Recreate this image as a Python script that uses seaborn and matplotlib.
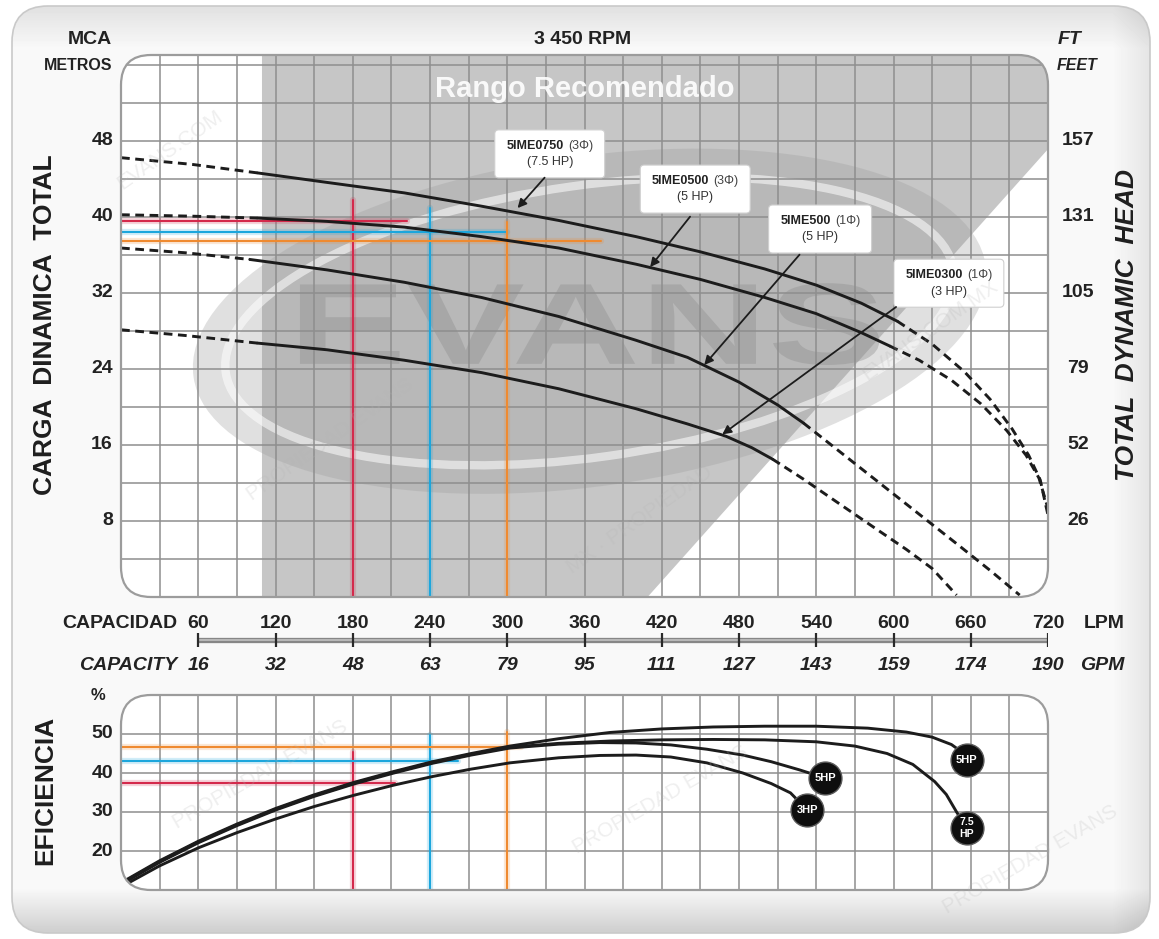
#!/usr/bin/env python3
"""
Curva de desempeño - bombas sumergibles 5IME a 3 450 RPM
"""

import matplotlib

matplotlib.use("Agg")
import matplotlib.pyplot as plt
import matplotlib.transforms as mtransforms
import numpy as np
import pandas as pd
import seaborn as sns
from matplotlib.collections import Collection
from matplotlib.font_manager import FontProperties
from matplotlib.lines import Line2D
from matplotlib.patches import Ellipse, FancyBboxPatch, Patch, PathPatch
from matplotlib.textpath import TextPath

# ---------------- datos ----------------
lpm_ticks = [60, 120, 180, 240, 300, 360, 420, 480, 540, 600, 660, 720]
gpm_labels = ["16", "32", "48", "63", "79", "95", "111", "127", "143", "159", "174", "190"]
mca_ticks = [48, 40, 32, 24, 16, 8]
feet_labels = ["157", "131", "105", "79", "52", "26"]
eff_ticks = [50, 40, 30, 20]

# carga dinamica total (LPM, m) y tramo continuo de cada curva
q_0750 = [0, 55, 106, 160, 220, 280, 340, 400, 450, 500, 540, 575, 603, 630, 655, 675, 692, 705, 714, 720]
h_0750 = [46.2, 45.5, 44.6, 43.6, 42.5, 41.1, 39.6, 37.9, 36.3, 34.5, 32.8, 30.9, 29.0,
          26.6, 23.7, 20.8, 17.7, 14.9, 12.3, 8.6]
solid_0750 = (106, 603)

q_0500 = [0, 55, 106, 160, 220, 280, 340, 400, 450, 500, 540, 575, 597, 620, 645, 668, 688, 703, 713, 720]
h_0500 = [40.2, 40.05, 39.85, 39.5, 38.9, 37.9, 36.7, 35.0, 33.4, 31.5, 29.8, 27.8, 26.4,
          24.9, 22.8, 20.3, 17.5, 14.9, 12.5, 9.3]
solid_0500 = (106, 597)

q_500 = [0, 50, 100, 160, 220, 280, 340, 400, 440, 480, 510, 530, 560, 590, 620, 650, 675, 698]
h_500 = [36.7, 36.2, 35.5, 34.4, 33.1, 31.5, 29.5, 27.0, 25.2, 22.6, 20.2, 18.3,
         15.1, 11.9, 8.7, 5.5, 2.8, 0.2]
solid_500 = (100, 530)

q_0300 = [0, 50, 106, 160, 220, 280, 340, 400, 440, 470, 490, 506, 530, 558, 585, 610, 630, 649]
h_0300 = [28.1, 27.5, 26.7, 26.0, 24.9, 23.6, 21.9, 19.8, 18.2, 16.9, 15.7, 14.5,
          12.4, 9.8, 7.3, 5.0, 3.0, 0.2]
solid_0300 = (106, 506)

# eficiencia (LPM, %)
qe_5hp3 = [4, 30, 60, 90, 120, 150, 181, 212, 242, 272, 302, 340, 380, 420, 460, 500, 540, 580,
           610, 630, 645, 653, 657]
ef_5hp3 = [12.6, 17.5, 22.5, 26.9, 30.9, 34.4, 37.6, 40.4, 42.9, 45.0, 46.9, 48.8, 50.4, 51.3,
           51.8, 52.0, 52.0, 51.5, 50.5, 49.2, 47.3, 45.4, 43.3]
qe_7hp = [4, 30, 60, 90, 120, 150, 181, 212, 242, 272, 302, 340, 380, 420, 460, 500, 540, 570,
          595, 615, 632, 641, 649, 657]
ef_7hp = [12.4, 17.3, 22.3, 26.7, 30.7, 34.2, 37.4, 40.2, 42.7, 44.8, 46.6, 47.6, 48.2, 48.5,
          48.6, 48.5, 48.0, 46.9, 45.0, 42.2, 37.8, 34.5, 30.0, 25.9]
qe_5hp1 = [4, 30, 60, 90, 120, 150, 181, 212, 242, 272, 302, 340, 372, 400, 427, 455, 483, 505,
           527, 547]
ef_5hp1 = [12.2, 17.1, 22.1, 26.5, 30.5, 34.0, 37.2, 40.0, 42.5, 44.6, 46.4, 47.4, 47.8, 47.7,
           47.2, 46.1, 44.6, 42.9, 40.8, 38.7]
qe_3hp = [4, 30, 60, 90, 120, 150, 181, 212, 242, 272, 302, 340, 372, 400, 427, 455, 483, 505,
          520, 533]
ef_3hp = [11.5, 16.2, 20.8, 24.7, 28.2, 31.4, 34.3, 36.9, 39.1, 41.0, 42.6, 43.9, 44.5, 44.6,
          44.1, 42.6, 40.0, 37.3, 34.9, 30.5]
badge_text = ["5HP", "7.5\nHP", "5HP", "3HP"]

# puntos de operacion marcados (rojo, azul, naranja)
op_lpm = [180, 240, 300]
op_head = [39.5, 38.4, 37.4]
op_head_top = [41.8, 40.9, 39.4]
op_head_qend = [222, 300, 373]
op_eff = [37.4, 43.1, 46.7]
op_eff_top = [45.4, 49.7, 50.5]
op_eff_qend = [213, 262, 311]
op_colors = ["#d42a4c", "#1ca6dc", "#ef8a30"]

# etiquetas de modelo
tag_names = ["5IME0750", "5IME0500", "5IME500", "5IME0300"]
tag_phase = ["(3\u03a6)", "(3\u03a6)", "(1\u03a6)", "(1\u03a6)"]
tag_hp = ["(7.5 HP)", "(5 HP)", "(5 HP)", "(3 HP)"]
tag_q = [333, 446, 543, 643]
tag_h = [46.6, 42.9, 38.7, 33.0]
arrow_tail = [(329, 44.1), (442, 40.0), (527, 36.0), (602, 30.5)]
arrow_tip = [(308, 40.9), (411, 34.7), (453, 24.4), (467, 17.1)]

# zona "Rango Recomendado"
rec_q = [109.5, 109.5, 720, 720, 409]
rec_h = [0, 57, 57, 47.1, 0]

# ---------------- estilo ----------------
sns.set_theme(style="white")
plt.rcParams["font.family"] = ["Liberation Sans", "DejaVu Sans"]
plt.rcParams["font.weight"] = "bold"
INK = "#1c1c1c"

W, H = 1159, 939
fig = plt.figure(figsize=(W / 100, H / 100), dpi=100)
fig.patch.set_facecolor("white")


def fx(px):
    return px / W


def fy(py):
    return 1 - py / H


def px_trans(ax, q, h):
    # coordenadas en pixeles alrededor de un punto de datos
    return (
        mtransforms.Affine2D().scale(1 / 100)
        + fig.dpi_scale_trans
        + mtransforms.ScaledTranslation(q, h, ax.transData)
    )


# panel de fondo
bg = fig.add_axes([0, 0, 1, 1], zorder=-5)
bg.set_axis_off()
bg.set_xlim(0, W)
bg.set_ylim(H, 0)
panel = FancyBboxPatch((12, 6), 1138, 927, boxstyle="round,pad=0,rounding_size=36",
                       fc="none", ec="#c9c9c9", lw=1.2, zorder=2)
bg.add_patch(panel)
yy, xx = np.mgrid[0:H, 0:W]
shade = np.full((H, W), 0.975)
shade -= 0.09 * np.clip((48 - yy) / 40, 0, 1)
shade -= 0.17 * np.clip((yy - 888) / 45, 0, 1)
shade -= 0.08 * np.clip((xx - 1112) / 38, 0, 1)
im = bg.imshow(shade, cmap="gray", vmin=0, vmax=1, extent=(0, W, H, 0), aspect="auto", zorder=0)
im.set_clip_path(panel)


def plot_axes(x0, y0, x1, y1):
    ax = fig.add_axes([fx(x0), fy(y1), fx(x1) - fx(x0), fy(y0) - fy(y1)])
    ax.set_axis_off()
    xy = (x0 / 100, (H - y1) / 100)
    w, h = (x1 - x0) / 100, (y1 - y0) / 100
    face = FancyBboxPatch(xy, w, h, boxstyle="round,pad=0,rounding_size=0.3",
                          transform=fig.dpi_scale_trans, fc="white", ec="none", zorder=0)
    edge = FancyBboxPatch(xy, w, h, boxstyle="round,pad=0,rounding_size=0.3",
                          transform=fig.dpi_scale_trans, fc="none", ec="#9c9c9c", lw=1.6, zorder=10)
    ax.add_artist(face)
    ax.add_artist(edge)
    edge.set_clip_on(False)
    return ax, face, edge


def clip_all(ax, face, edge):
    for a in ax.get_children():
        if a is face or a is edge:
            continue
        if isinstance(a, (Line2D, Collection, Patch)) or a.__class__.__name__ == "AxesImage":
            a.set_clip_path(face)


def head_curve(ax, q, h, solid):
    df = pd.DataFrame({"q": q, "h": h})
    a, b = solid
    parts = [(df[df.q <= a], True), (df[(df.q >= a) & (df.q <= b)], False), (df[df.q >= b], True)]
    for part, dashed in parts:
        sns.lineplot(data=part, x="q", y="h", ax=ax, color=INK, lw=2.1,
                     linestyle=(0, (3.0, 1.9)) if dashed else "-",
                     sort=False, estimator=None, zorder=4)


# ================= grafica de carga =================
ax, face, edge = plot_axes(121, 55, 1048, 597)
ax.set_xlim(0, 720)
ax.set_ylim(0, 57)

ax.fill(rec_q, rec_h, color="#c6c6c6", lw=0, zorder=1)

# logotipo de fondo
ax.add_artist(Ellipse((0, 0), 800, 330, angle=8, transform=px_trans(ax, 364, 29),
                      fc="#9a9a9a", ec="none", alpha=0.3, zorder=1.4))
ax.add_artist(Ellipse((0, 0), 735, 272, angle=8, transform=px_trans(ax, 364, 29),
                      fc="none", ec="white", lw=6, alpha=0.55, zorder=1.5))
fp_logo = FontProperties(family="Liberation Sans", weight="bold")
tp = TextPath((0, 0), "EVANS", size=1, prop=fp_logo)
ext = tp.get_extents()
logo_tr = (mtransforms.Affine2D().translate(-ext.x0, -ext.y0)
           .scale((589 - 139) / ext.width, (33 - 24.4) / ext.height).translate(139, 24.4))
ax.add_patch(PathPatch(logo_tr.transform_path(tp), fc="#8c8c8c", ec="none", alpha=0.38, zorder=1.6))

ax.vlines(np.arange(30, 720, 30), 0, 57, color="#8e8e8e", lw=1.1, zorder=2)
ax.hlines(np.arange(4, 57, 4), 0, 720, color="#8e8e8e", lw=1.1, zorder=2)

ax.text(360, 53.4, "Rango Recomendado", color="white", fontsize=21, fontweight="bold",
        ha="center", va="center", alpha=0.9, zorder=3)

for q, h, top, qend, c in zip(op_lpm, op_head, op_head_top, op_head_qend, op_colors):
    ax.plot([0, qend], [h, h], color=c, lw=4.5, alpha=0.2, zorder=2.5)
    ax.plot([q, q], [0, top], color=c, lw=4.5, alpha=0.2, zorder=2.5)
    ax.plot([0, qend], [h, h], color=c, lw=1.5, zorder=3)
    ax.plot([q, q], [0, top], color=c, lw=1.5, zorder=3)

head_curve(ax, q_0750, h_0750, solid_0750)
head_curve(ax, q_0500, h_0500, solid_0500)
head_curve(ax, q_500, h_500, solid_500)
head_curve(ax, q_0300, h_0300, solid_0300)


def text_w(s, weight):
    fp = FontProperties(family="Liberation Sans", weight=weight)
    return TextPath((0, 0), s, size=9, prop=fp).get_extents().width


for name, ph, hp, q, h, tail, tip in zip(tag_names, tag_phase, tag_hp, tag_q, tag_h, arrow_tail, arrow_tip):
    ax.annotate("", xy=tip, xytext=tail,
                arrowprops=dict(arrowstyle="-|>", color=INK, lw=1.3, mutation_scale=13,
                                shrinkA=0, shrinkB=0), zorder=6)
    wb, wn = text_w(name, "bold"), text_w(ph, "normal")
    total = wb + 3 + wn
    box_w = total / 0.72 + 26
    ax.add_artist(FancyBboxPatch((-box_w / 2, -24), box_w, 48, boxstyle="round,pad=0,rounding_size=4",
                                 transform=px_trans(ax, q, h), fc="white", ec="#cfcfcf", lw=0.8, zorder=5))
    off = wb - total / 2
    ax.annotate(name, (q, h), xytext=(off, 6), textcoords="offset points", ha="right", va="center",
                fontsize=9, fontweight="bold", color="#222222", zorder=6)
    ax.annotate(ph, (q, h), xytext=(off + 3, 6), textcoords="offset points", ha="left", va="center",
                fontsize=9, fontweight="normal", color="#444444", zorder=6)
    ax.annotate(hp, (q, h), xytext=(0, -6), textcoords="offset points", ha="center", va="center",
                fontsize=9, fontweight="normal", color="#333333", zorder=6)

clip_all(ax, face, edge)

left_tr = mtransforms.blended_transform_factory(fig.transFigure, ax.transData)
for v, ft in zip(mca_ticks, feet_labels):
    fig.text(fx(113), v, str(v), transform=left_tr, ha="right", va="center", fontsize=14, color="#222222")
    fig.text(fx(1078), v, ft, transform=left_tr, ha="center", va="center", fontsize=14, color="#222222")

# ================= escala de capacidad =================
ax_s = fig.add_axes([fx(121), fy(690), fx(1048) - fx(121), fy(600) - fy(690)])
ax_s.set_axis_off()
ax_s.set_xlim(0, 720)
ax_s.set_ylim(690, 600)
ax_s.plot([lpm_ticks[0], lpm_ticks[-1]], [640, 640], color="#878787", lw=3.8, solid_capstyle="butt")
ax_s.plot([lpm_ticks[0], lpm_ticks[-1]], [640, 640], color="#c2c2c2", lw=1.2)
ax_s.vlines(lpm_ticks, 633, 647, color="#2a2a2a", lw=1.6)
for q, g in zip(lpm_ticks, gpm_labels):
    ax_s.text(q, 623, str(q), ha="center", va="center", fontsize=14, color="#222222")
    ax_s.text(q, 665, g, ha="center", va="center", fontsize=14, style="italic", color="#222222")
fig.text(fx(177), fy(623), "CAPACIDAD", ha="right", va="center", fontsize=14, color="#222222")
fig.text(fx(177), fy(665), "CAPACITY", ha="right", va="center", fontsize=14, style="italic", color="#222222")
fig.text(fx(1084), fy(623), "LPM", ha="left", va="center", fontsize=14, color="#222222")
fig.text(fx(1080), fy(665), "GPM", ha="left", va="center", fontsize=14, style="italic", color="#222222")

# ================= grafica de eficiencia =================
ax2, face2, edge2 = plot_axes(121, 695, 1048, 890)
ax2.set_xlim(0, 720)
ax2.set_ylim(10, 60)
ax2.vlines(np.arange(30, 720, 30), 10, 60, color="#8e8e8e", lw=1.1, zorder=2)
ax2.hlines(eff_ticks, 0, 720, color="#8e8e8e", lw=1.1, zorder=2)

for q, e, top, qend, c in zip(op_lpm, op_eff, op_eff_top, op_eff_qend, op_colors):
    ax2.plot([0, qend], [e, e], color=c, lw=4.5, alpha=0.2, zorder=2.5)
    ax2.plot([q, q], [10, top], color=c, lw=4.5, alpha=0.2, zorder=2.5)
    ax2.plot([0, qend], [e, e], color=c, lw=1.5, zorder=3)
    ax2.plot([q, q], [10, top], color=c, lw=1.5, zorder=3)

eff_curves = [(qe_5hp3, ef_5hp3), (qe_7hp, ef_7hp), (qe_5hp1, ef_5hp1), (qe_3hp, ef_3hp)]
for (q, e), lab in zip(eff_curves, badge_text):
    df = pd.DataFrame({"q": q, "e": e})
    sns.lineplot(data=df, x="q", y="e", ax=ax2, color=INK, lw=2.1, sort=False, estimator=None, zorder=4)
    ax2.scatter([q[-1]], [e[-1]], s=560, color="#0e0e0e", edgecolor="#5a5a5a", lw=1.0, zorder=5)
    lines = lab.split("\n")
    if len(lines) == 1:
        ax2.text(q[-1], e[-1], lab, ha="center", va="center", fontsize=8,
                 color="white", fontweight="bold", zorder=6)
    else:
        ax2.annotate(lines[0], (q[-1], e[-1]), xytext=(0, 4), textcoords="offset points",
                     ha="center", va="center", fontsize=7.5, color="white", fontweight="bold", zorder=6)
        ax2.annotate(lines[1], (q[-1], e[-1]), xytext=(0, -4.5), textcoords="offset points",
                     ha="center", va="center", fontsize=7.5, color="white", fontweight="bold", zorder=6)

clip_all(ax2, face2, edge2)

left_tr2 = mtransforms.blended_transform_factory(fig.transFigure, ax2.transData)
for v in eff_ticks:
    fig.text(fx(113), v, str(v), transform=left_tr2, ha="right", va="center", fontsize=14, color="#222222")

# ================= textos exteriores =================
fig.text(fx(112), fy(40), "MCA", ha="right", va="center", fontsize=14, color="#222222")
fig.text(fx(112), fy(66), "METROS", ha="right", va="center", fontsize=11.5, color="#222222")
fig.text(fx(583), fy(40), "3 450 RPM", ha="center", va="center", fontsize=14, color="#222222")
fig.text(fx(1058), fy(40), "FT", ha="left", va="center", fontsize=14, style="italic", color="#222222")
fig.text(fx(1057), fy(66), "FEET", ha="left", va="center", fontsize=11.5, style="italic", color="#222222")
fig.text(fx(98), fy(696), "%", ha="center", va="center", fontsize=12, color="#222222")
fig.text(fx(45), fy(325), "CARGA  DINAMICA  TOTAL", rotation=90, ha="center", va="center",
         fontsize=19, color="#1e1e1e")
fig.text(fx(1127), fy(325), "TOTAL  DYNAMIC  HEAD", rotation=90, ha="center", va="center",
         fontsize=19, style="italic", color="#1e1e1e")
fig.text(fx(45), fy(790), "EFICIENCIA", rotation=90, ha="center", va="center", fontsize=19, color="#1e1e1e")

# marcas de agua tenues sobre todo el dibujo
for txt, x, y, rot in [("EVANS.COM", 170, 150, 35), ("PROPIEDAD EVANS", 330, 440, 35),
                       ("MX \u00b7 PROPIEDAD", 640, 520, 35), ("EVANS.COM.MX", 930, 330, 35),
                       ("PROPIEDAD EVANS", 260, 775, 30), ("PROPIEDAD EVANS", 660, 800, 30),
                       ("PROPIEDAD EVANS", 1030, 860, 30)]:
    fig.text(fx(x), fy(y), txt, rotation=rot, ha="center", va="center", fontsize=15,
             fontweight="normal", color="#b5b5b5", alpha=0.22)

fig.savefig("out.png", dpi=100, facecolor=fig.get_facecolor())
